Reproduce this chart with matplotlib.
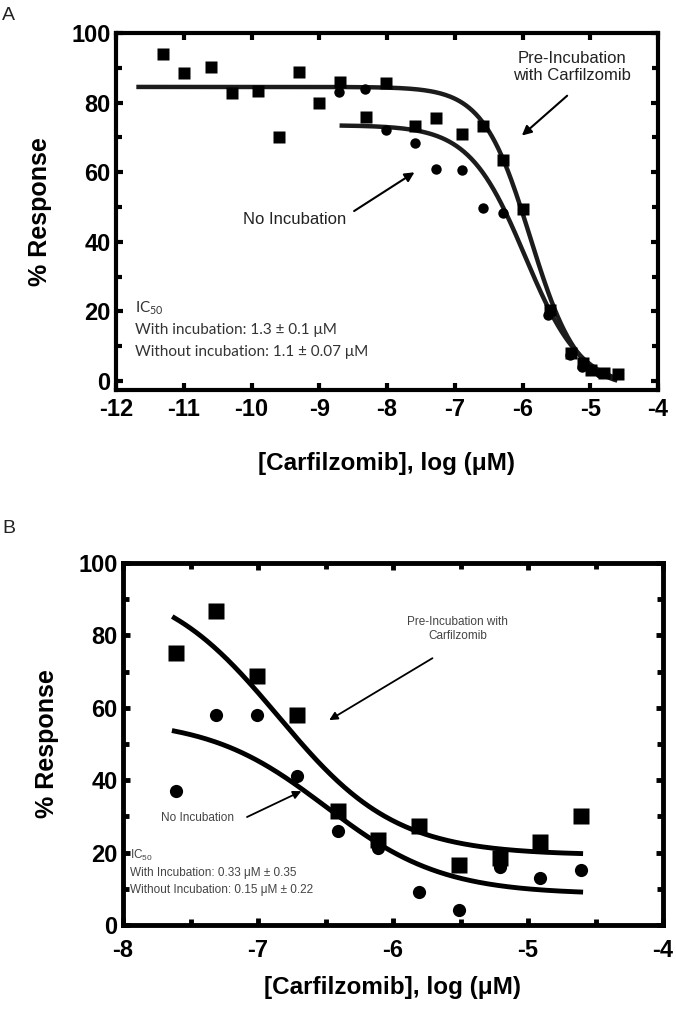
# plot.py — Carfilzomib dose-response, panels A and B

import matplotlib
matplotlib.use("Agg")
import matplotlib.pyplot as plt
from matplotlib.ticker import MultipleLocator
import numpy as np

plt.rcParams["font.family"] = ["Liberation Sans", "DejaVu Sans"]
plt.rcParams["axes.unicode_minus"] = False

# ── Data ──────────────────────────────────────────────────────────────────────

# Panel A
a_pre_x = [-11.30, -11.00, -10.60, -10.29, -9.90, -9.60, -9.30, -9.01, -8.70,
           -8.31, -8.01, -7.58, -7.28, -6.89, -6.59, -6.29, -5.99, -5.60,
           -5.29, -5.11, -4.99, -4.79, -4.59]
a_pre_y = [93.9, 88.5, 90.2, 82.7, 83.2, 70.2, 88.9, 79.8, 85.9,
           76.0, 85.6, 73.2, 75.7, 71.1, 73.2, 63.6, 49.4, 20.5,
           8.0, 5.1, 3.1, 2.2, 2.0]
a_no_x = [-8.71, -8.32, -8.02, -7.58, -7.28, -6.89, -6.59, -6.29, -5.99,
          -5.62, -5.30, -5.12, -4.99, -4.86]
a_no_y = [83.0, 83.9, 72.1, 68.5, 61.0, 60.5, 49.6, 48.2, 49.0,
          19.0, 7.5, 4.1, 3.1, 2.4]

# fitted 4PL curves: (top, bottom, logIC50, hill, x_start, x_end)
a_pre_fit = (84.5, -2.0, -5.886, 1.25, -11.7, -4.6)
a_no_fit = (73.5, -2.0, -5.96, 1.05, -8.7, -4.6)

# Panel B
b_x = [-7.61, -7.31, -7.01, -6.71, -6.41, -6.11, -5.81, -5.51, -5.21, -4.91, -4.61]
b_pre_y = [75.1, 86.7, 68.9, 58.0, 31.5, 23.5, 27.4, 16.6, 18.6, 23.0, 30.2]
b_no_y = [36.9, 57.9, 57.9, 41.2, 26.0, 21.3, 9.0, 4.2, 16.1, 13.0, 15.2]

b_pre_fit = (96.0, 19.3, -6.85, 1.0, -7.62, -4.61)
b_no_fit = (57.0, 8.5, -6.5, 1.0, -7.62, -4.61)

XLABEL = "[Carfilzomib], log (\u03bcM)"
YLABEL = "% Response"


# ── Helpers ───────────────────────────────────────────────────────────────────

def _curve(fit):
    top, bottom, c, h, x0, x1 = fit
    x = np.linspace(x0, x1, 300)
    y = bottom + (top - bottom) / (1 + 10 ** ((x - c) * h))
    return x, y


def _style_axes(ax, spine_w):
    for spine in ax.spines.values():
        spine.set_linewidth(spine_w)
        spine.set_color("black")
    ax.tick_params(which="both", direction="in", top=True, right=True,
                   width=spine_w, color="black")
    ax.tick_params(which="major", length=5, labelsize=17, pad=4)
    ax.tick_params(which="minor", length=4)
    for lab in ax.get_xticklabels() + ax.get_yticklabels():
        lab.set_fontweight("bold")
    ax.set_xlabel(XLABEL, fontsize=17.5, fontweight="bold", labelpad=22)
    ax.set_ylabel(YLABEL, fontsize=18, fontweight="bold", labelpad=14)


# ── Figure ────────────────────────────────────────────────────────────────────

fig = plt.figure(figsize=(6.76, 10.13), dpi=100, facecolor="white")

# Panel A
ax_a = fig.add_axes([116 / 676, 1 - 390 / 1013, 542 / 676, 357 / 1013])
ax_a.plot(*_curve(a_pre_fit), color="#1c1c1c", lw=3.2, solid_capstyle="butt")
ax_a.plot(*_curve(a_no_fit), color="#1c1c1c", lw=3.2, solid_capstyle="butt")
ax_a.plot(a_pre_x, a_pre_y, "s", color="black", ms=8.5, mec="none")
ax_a.plot(a_no_x, a_no_y, "o", color="black", ms=7.5, mec="none")
ax_a.set_xlim(-12, -4)
ax_a.set_ylim(-2.6, 100)
ax_a.xaxis.set_major_locator(MultipleLocator(1))
ax_a.yaxis.set_major_locator(MultipleLocator(20))
ax_a.yaxis.set_minor_locator(MultipleLocator(10))
_style_axes(ax_a, 3)
ax_a.tick_params(axis="x", pad=6)

ax_a.text(-5.27, 90.3, "Pre-Incubation\nwith Carfilzomib", ha="center", va="center",
          fontsize=12, color="#222222", linespacing=1.2)
ax_a.annotate("", xy=(-6.04, 70.0), xytext=(-5.31, 82.5),
              arrowprops=dict(arrowstyle="-|>", color="black", lw=1.5,
                              mutation_scale=14))
ax_a.text(-8.6, 46.3, "No Incubation", ha="right", va="center",
          fontsize=12, color="#222222")
ax_a.annotate("", xy=(-7.56, 60.4), xytext=(-8.52, 48.4),
              arrowprops=dict(arrowstyle="-|>", color="black", lw=1.5,
                              mutation_scale=14))
ic_font = ["Lato", "DejaVu Sans"]
ax_a.text(-11.72, 21.0, r"IC$_{\mathregular{50}}$", fontsize=11, color="#333333",
          va="center", family=ic_font)
ax_a.text(-11.72, 14.6, "With incubation: 1.3 \u00b1 0.1 \u03bcM", fontsize=11,
          color="#333333", va="center", family=ic_font)
ax_a.text(-11.72, 8.3, "Without incubation: 1.1 \u00b1 0.07 \u03bcM", fontsize=11,
          color="#333333", va="center", family=ic_font)

# Panel B
ax_b = fig.add_axes([123 / 676, 1 - 925 / 1013, 540 / 676, 362 / 1013])
ax_b.plot(*_curve(b_pre_fit), color="black", lw=3.5)
ax_b.plot(*_curve(b_no_fit), color="black", lw=3.5)
ax_b.plot(b_x, b_pre_y, "s", color="black", ms=11, mec="none")
ax_b.plot(b_x, b_no_y, "o", color="black", ms=9.5, mec="none")
ax_b.set_xlim(-8, -4)
ax_b.set_ylim(0, 100)
ax_b.xaxis.set_major_locator(MultipleLocator(1))
ax_b.xaxis.set_minor_locator(MultipleLocator(0.5))
ax_b.yaxis.set_major_locator(MultipleLocator(20))
ax_b.yaxis.set_minor_locator(MultipleLocator(10))
_style_axes(ax_b, 3.5)
ax_b.tick_params(axis="x", pad=10)
ax_b.xaxis.labelpad = 10

ax_b.text(-5.52, 81.8, "Pre-Incubation with\nCarfilzomib", ha="center", va="center",
          fontsize=8.5, color="#444444", linespacing=1.3)
ax_b.annotate("", xy=(-6.49, 56.2), xytext=(-5.69, 74.1),
              arrowprops=dict(arrowstyle="-|>", color="black", lw=1.3,
                              mutation_scale=12))
ax_b.text(-7.45, 29.5, "No Incubation", ha="center", va="center",
          fontsize=8.5, color="#444444")
ax_b.annotate("", xy=(-6.66, 37.3), xytext=(-7.10, 29.5),
              arrowprops=dict(arrowstyle="-|>", color="black", lw=1.3,
                              mutation_scale=12))
ax_b.text(-7.95, 19.3, r"IC$_{\mathregular{50}}$", fontsize=8.5, color="#444444",
          va="center")
ax_b.text(-7.95, 14.4, "With Incubation: 0.33 \u03bcM \u00b1 0.35", fontsize=8.5,
          color="#444444", va="center")
ax_b.text(-7.95, 9.8, "Without Incubation: 0.15 \u03bcM \u00b1 0.22", fontsize=8.5,
          color="#444444", va="center")

# Panel letters
fig.text(2 / 676, 1 - 20 / 1013, "A", fontsize=14, color="#222222")
fig.text(2 / 676, 1 - 533 / 1013, "B", fontsize=14, color="#222222")

fig.savefig("out.png", dpi=100, facecolor="white")
plt.close(fig)
